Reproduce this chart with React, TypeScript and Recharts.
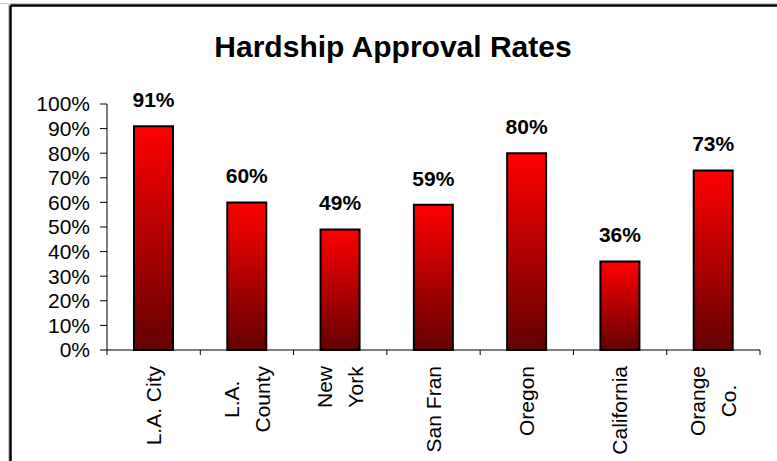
import React from 'react';
import { BarChart, Bar, XAxis, YAxis, LabelList } from 'recharts';

const places = ['L.A. City', 'L.A.\nCounty', 'New\nYork', 'San Fran', 'Oregon', 'California', 'Orange\nCo.'];
const approvalRates = [91, 60, 49, 59, 80, 36, 73];
const yTicks = [0, 10, 20, 30, 40, 50, 60, 70, 80, 90, 100];

const data = places.map((place, i) => ({ place, rate: approvalRates[i] }));

const FONT = "'Liberation Sans', Arial, sans-serif";
const TICK_SIZE = 21;

let ctx: CanvasRenderingContext2D | null = null;
const measure = (s: string) => {
  if (!ctx) ctx = document.createElement('canvas').getContext('2d');
  if (!ctx) return s.length * TICK_SIZE * 0.5;
  ctx.font = `${TICK_SIZE}px ${FONT}`;
  return ctx.measureText(s).width;
};

// category labels are rotated, tick marks sit between categories
const PlaceTick = ({ x, y, payload, index, width }: any) => {
  const band = (width || 653) / places.length;
  const lines = String(payload.value).split('\n');
  const maxW = Math.max(...lines.map(measure));
  const lh = 31;
  return (
    <g>
      <line x1={x - band / 2} y1={y} x2={x - band / 2} y2={y + 5} stroke="#000" strokeWidth={1} />
      {index === places.length - 1 && (
        <line x1={x + band / 2} y1={y} x2={x + band / 2} y2={y + 5} stroke="#000" strokeWidth={1} />
      )}
      <g transform={`translate(${x}, ${y + 16}) rotate(-90)`}>
        {lines.map((line, i) => (
          <text
            key={i}
            x={lines.length > 1 ? -maxW / 2 : 0}
            y={(i - (lines.length - 1) / 2) * lh + TICK_SIZE * 0.35}
            textAnchor={lines.length > 1 ? 'middle' : 'end'}
            fontSize={TICK_SIZE}
            fontFamily={FONT}
            fill="#000"
          >
            {line}
          </text>
        ))}
      </g>
    </g>
  );
};

const RateLabel = ({ x, y, width, value }: any) => (
  <text x={x + width / 2} y={y - 19} textAnchor="middle" fontSize={21} fontWeight="bold" fontFamily={FONT} fill="#000">
    {value}%
  </text>
);

export default function App() {
  return (
    <div style={{ position: 'absolute', left: 0, top: 0, width: 777, height: 461, background: '#fff', overflow: 'hidden' }}>
      <svg width={777} height={461} style={{ position: 'absolute', left: 0, top: 0 }}>
        <line x1={0} y1={3.5} x2={777} y2={3.5} stroke="#c8c8c8" strokeWidth={1} />
        <line x1={8.5} y1={3} x2={8.5} y2={461} stroke="#c8c8c8" strokeWidth={1} />
        <line x1={10.5} y1={5.5} x2={777} y2={5.5} stroke="#000" strokeWidth={2.5} />
        <line x1={10.5} y1={5.5} x2={10.5} y2={461} stroke="#000" strokeWidth={2.5} />
        <text x={393} y={57} textAnchor="middle" fontSize={30} fontWeight="bold" fontFamily={FONT} fill="#000">
          Hardship Approval Rates
        </text>
      </svg>
      <div style={{ position: 'absolute', left: 0, top: 0 }}>
        <BarChart width={777} height={461} data={data} margin={{ top: 104, right: 17, left: 47, bottom: 0 }}>
          <defs>
            <linearGradient id="redFade" x1="0" y1="0" x2="0" y2="1">
              <stop offset="0%" stopColor="#ff0000" />
              <stop offset="100%" stopColor="#640000" />
            </linearGradient>
          </defs>
          <XAxis
            dataKey="place"
            interval={0}
            height={111}
            tickLine={false}
            tickSize={0}
            tickMargin={0}
            axisLine={{ stroke: '#000', strokeWidth: 1 }}
            tick={<PlaceTick />}
          />
          <YAxis
            domain={[0, 100]}
            ticks={yTicks}
            interval={0}
            width={60}
            tickSize={7}
            tickMargin={10}
            tickFormatter={(v) => `${v}%`}
            axisLine={{ stroke: '#000', strokeWidth: 1 }}
            tickLine={{ stroke: '#000', strokeWidth: 1 }}
            tick={{ fontSize: TICK_SIZE, fontFamily: FONT, fill: '#000' }}
          />
          <Bar dataKey="rate" barSize={39} fill="url(#redFade)" stroke="#000" strokeWidth={2} isAnimationActive={false}>
            <LabelList dataKey="rate" content={<RateLabel />} />
          </Bar>
        </BarChart>
      </div>
    </div>
  );
}
